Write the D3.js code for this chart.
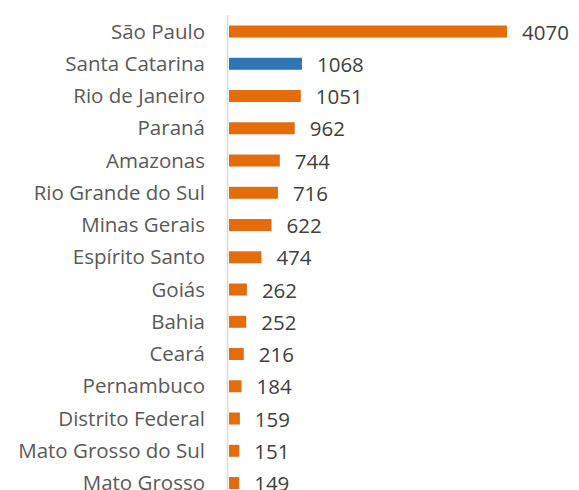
<!DOCTYPE html>
<html><head><meta charset="utf-8">
<script src="https://cdn.jsdelivr.net/npm/d3@7"></script>
<style>body{margin:0;background:#fff}svg{display:block}</style>
</head><body>
<svg id="c" width="579" height="490"></svg>
<script>
const categories = ["São Paulo","Santa Catarina","Rio de Janeiro","Paraná","Amazonas","Rio Grande do Sul","Minas Gerais","Espírito Santo","Goiás","Bahia","Ceará","Pernambuco","Distrito Federal","Mato Grosso do Sul","Mato Grosso"];
const values = [4070,1068,1051,962,744,716,622,474,262,252,216,184,159,151,149];
const highlight = ["Santa Catarina"];

const svg = d3.select("#c");
const x = d3.scaleLinear().domain([0, 4070]).range([229, 507]);
const y = d3.scaleBand().domain(categories).range([15.4, 499.15]).paddingInner(0.628).paddingOuter(0.314);

const data = categories.map((c,i)=>({c, v: values[i]}));

svg.append("line").attr("x1",227.5).attr("x2",227.5).attr("y1",15).attr("y2",490)
  .attr("stroke","#d9d9d9").attr("stroke-width",1.5);

svg.selectAll("rect.bar").data(data).join("rect").attr("class","bar")
  .attr("x", x(0)).attr("y", d=>y(d.c)).attr("width", d=>x(d.v)-x(0)).attr("height", y.bandwidth())
  .attr("fill", d=> highlight.includes(d.c) ? "#2e75b6" : "#e46c0a");

svg.selectAll("text.lab").data(data).join("text").attr("class","lab")
  .attr("x", 205).attr("y", d=>y(d.c)+y.bandwidth()/2-1)
  .attr("text-anchor","end").attr("dominant-baseline","central")
  .attr("font-family","Open Sans").attr("font-size",20.5).attr("fill","#595959")
  .text(d=>d.c);

svg.selectAll("text.val").data(data).join("text").attr("class","val")
  .attr("x", d=>x(d.v)+15).attr("y", d=>y(d.c)+y.bandwidth()/2)
  .attr("dominant-baseline","central")
  .attr("font-family","Open Sans").attr("font-size",20.5).attr("fill","#404040")
  .text(d=>d.v);
</script>
</body></html>
